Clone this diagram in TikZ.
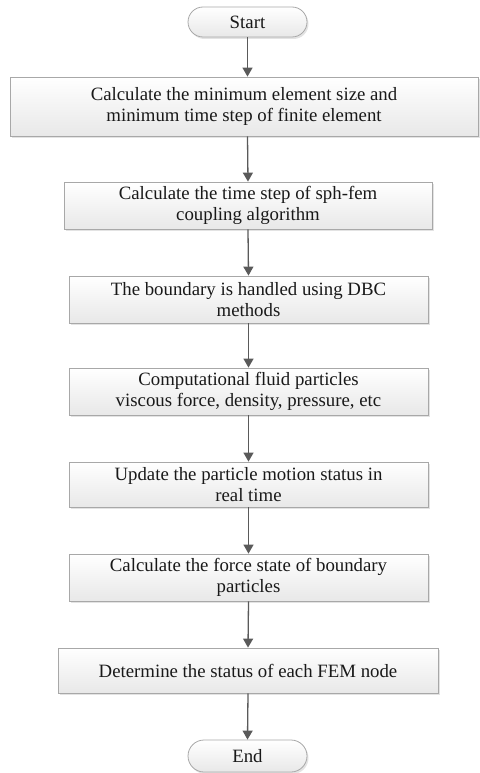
\documentclass[tikz,border=0pt]{standalone}
\usepackage{fontspec}
\setmainfont{Liberation Serif}
\usetikzlibrary{shapes.misc,arrows.meta,shadows}
\definecolor{boxline}{HTML}{A8A8A8}
\definecolor{arrowc}{HTML}{5A5A5A}
\begin{document}
\begin{tikzpicture}[x=1pt,y=-1pt,
  procbox/.style={draw=boxline, line width=0.8pt, top color=white, bottom color=black!9,
    drop shadow={shadow xshift=1.5pt, shadow yshift=-2pt, fill=black!18, opacity=0.6},
    align=center, inner sep=0pt, font=\fontsize{18.8}{21.6}\selectfont, text=black!90},
  termbox/.style={procbox, rounded rectangle},
  flow/.style={draw=arrowc, line width=1.3pt, -{Triangle[length=9pt,width=10pt]}}]
\useasboundingbox (0,0) rectangle (479,773);
\node[termbox, minimum width=119pt, minimum height=30pt] (start) at (247.5,22) {Start};
\node[procbox, minimum width=468pt, minimum height=59pt] (b1) at (244,106.5)
  {Calculate the minimum element size and\\minimum time step of finite element};
\node[procbox, minimum width=368pt, minimum height=47pt] (b2) at (248,205.5)
  {Calculate the time step of sph-fem\\coupling algorithm};
\node[procbox, minimum width=359pt, minimum height=47pt] (b3) at (248.5,299.5)
  {The boundary is handled using DBC\\methods};
\node[procbox, minimum width=359pt, minimum height=47pt] (b4) at (248.5,391.5)
  {Computational fluid particles\\viscous force, density, pressure, etc};
\node[procbox, minimum width=359pt, minimum height=45pt] (b5) at (248.5,484.5)
  {Update the particle motion status in\\real time};
\node[procbox, minimum width=359pt, minimum height=47pt] (b6) at (248.5,577.5)
  {Calculate the force state of boundary\\particles};
\node[procbox, minimum width=380pt, minimum height=45pt] (b7) at (248,670.5)
  {Determine the status of each FEM node};
\node[termbox, minimum width=119pt, minimum height=32pt] (end) at (247.5,756) {End};
\draw[flow] (start.south) -- (start.south |- b1.north);
\draw[flow] (start.south |- b1.south) -- (b2.north);
\draw[flow] (b2.south) -- (b3.north);
\draw[flow] (b3.south) -- (b4.north);
\draw[flow] (b4.south) -- (b5.north);
\draw[flow] (b5.south) -- (b6.north);
\draw[flow] (b6.south) -- (b7.north);
\draw[flow] (b7.south) -- (end.north);
\end{tikzpicture}
\end{document}
